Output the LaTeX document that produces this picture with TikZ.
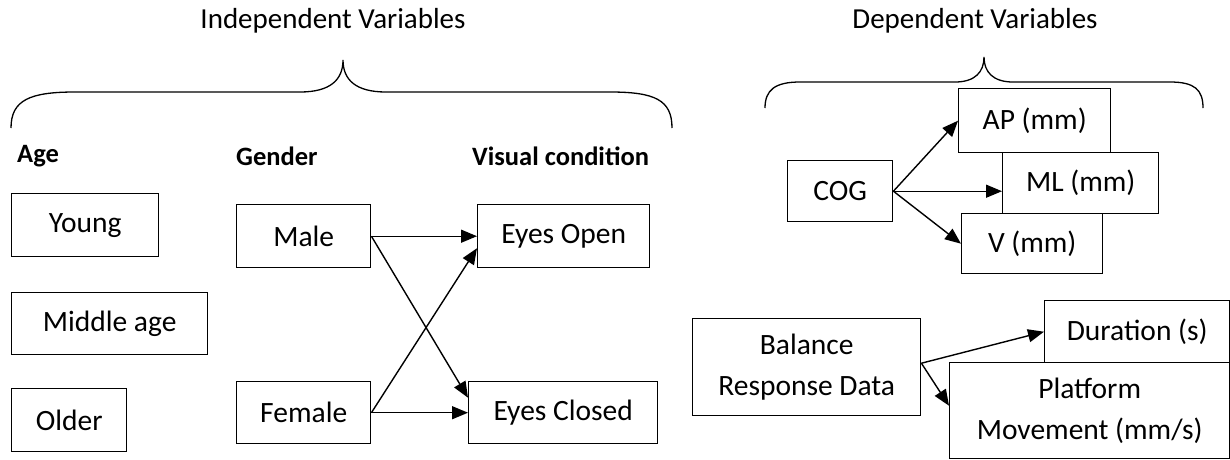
\documentclass[tikz,border=0pt]{standalone}
\usepackage{fontspec}
\setmainfont{Carlito}
\usetikzlibrary{arrows.meta}

\begin{document}
\begin{tikzpicture}[x=1pt, y=-1pt,
	box/.style={draw, line width=1.4pt, inner sep=0pt, anchor=north west, align=center, font=\fontsize{29.5}{41}\selectfont},
	head/.style={anchor=west, inner sep=0pt, font=\fontsize{26.5}{30}\selectfont\bfseries},
	title/.style={inner sep=0pt, font=\fontsize{29}{33}\selectfont},
	link/.style={-{Triangle[length=16pt,width=13pt]}, line width=1.4pt},
	brace/.style={line width=1.3pt}]

	\useasboundingbox (0,0) rectangle (1230,459);

	% Titles
	\node[title] (indep) at (333,21) {Independent Variables};
	\node[title] (dep) at (975,21) {Dependent Variables};

	% Braces
	\draw[brace] (11,128) .. controls (11,100) and (30,92) .. (75,92) -- (300,92)
		.. controls (330,92) and (343,80) .. (343,60)
		.. controls (343,80) and (356,92) .. (386,92) -- (610,92)
		.. controls (655,92) and (672,100) .. (672,128);
	\draw[brace] (765,108) .. controls (765,90) and (775,82) .. (800,82) -- (955,82)
		.. controls (975,82) and (984,72) .. (984,57)
		.. controls (984,72) and (993,82) .. (1013,82) -- (1170,82)
		.. controls (1195,82) and (1203,90) .. (1203,108);

	% Headers
	\node[head] (age) at (17,156) {Age};
	\node[head] (gender) at (236,156) {Gender};
	\node[head] (visual) at (472,156) {Visual condition};

	% Age
	\node[box, minimum width=147pt, minimum height=63pt] (young) at (11,193) {Young};
	\node[box, minimum width=196pt, minimum height=62pt] (middle) at (11,292) {Middle age};
	\node[box, minimum width=115pt, minimum height=63pt] (older) at (11,388) {Older};

	% Gender and visual condition
	\node[box, minimum width=134pt, minimum height=63pt] (male) at (236,204) {Male};
	\node[box, minimum width=134pt, minimum height=62pt] (female) at (236,381) {Female};
	\node[box, minimum width=172pt, minimum height=63pt] (open) at (477,204) {Eyes Open};
	\node[box, minimum width=189pt, minimum height=62pt] (closed) at (468,381) {Eyes Closed};

	\draw[link] (male.east) -- (open.west);
	\draw[link] (male.east) -- ([yshift=15pt]closed.west);
	\draw[link] (female.east) -- ([yshift=-12pt]open.west);
	\draw[link] (female.east) -- (closed.west);

	% COG
	\node[box, minimum width=105pt, minimum height=61pt] (cog) at (787,160) {COG};
	\node[box, minimum width=152pt, minimum height=64pt] (ap) at (958,88) {AP (mm)};
	\node[box, minimum width=156pt, minimum height=61pt] (ml) at (1002,152) {ML (mm)};
	\node[box, minimum width=141pt, minimum height=60pt] (v) at (961,213) {V (mm)};

	\draw[link] (cog.east) -- (ap.west);
	\draw[link] (cog.east) -- (ml.west |- cog.east);
	\draw[link] (cog.east) -- (v.west);

	% Balance response data
	\node[box, minimum width=228pt, minimum height=97pt] (bal) at (692,318) {Balance\\Response Data};
	\node[box, minimum width=185pt, minimum height=62pt] (dur) at (1044,300) {Duration (s)};
	\node[box, minimum width=280pt, minimum height=96pt] (plat) at (949,362) {Platform\\Movement (mm/s)};

	\draw[link] ([yshift=4pt]bal.east) -- (dur.west);
	\draw[link] ([yshift=4pt]bal.east) -- ([yshift=5pt]plat.west);

\end{tikzpicture}
\end{document}
